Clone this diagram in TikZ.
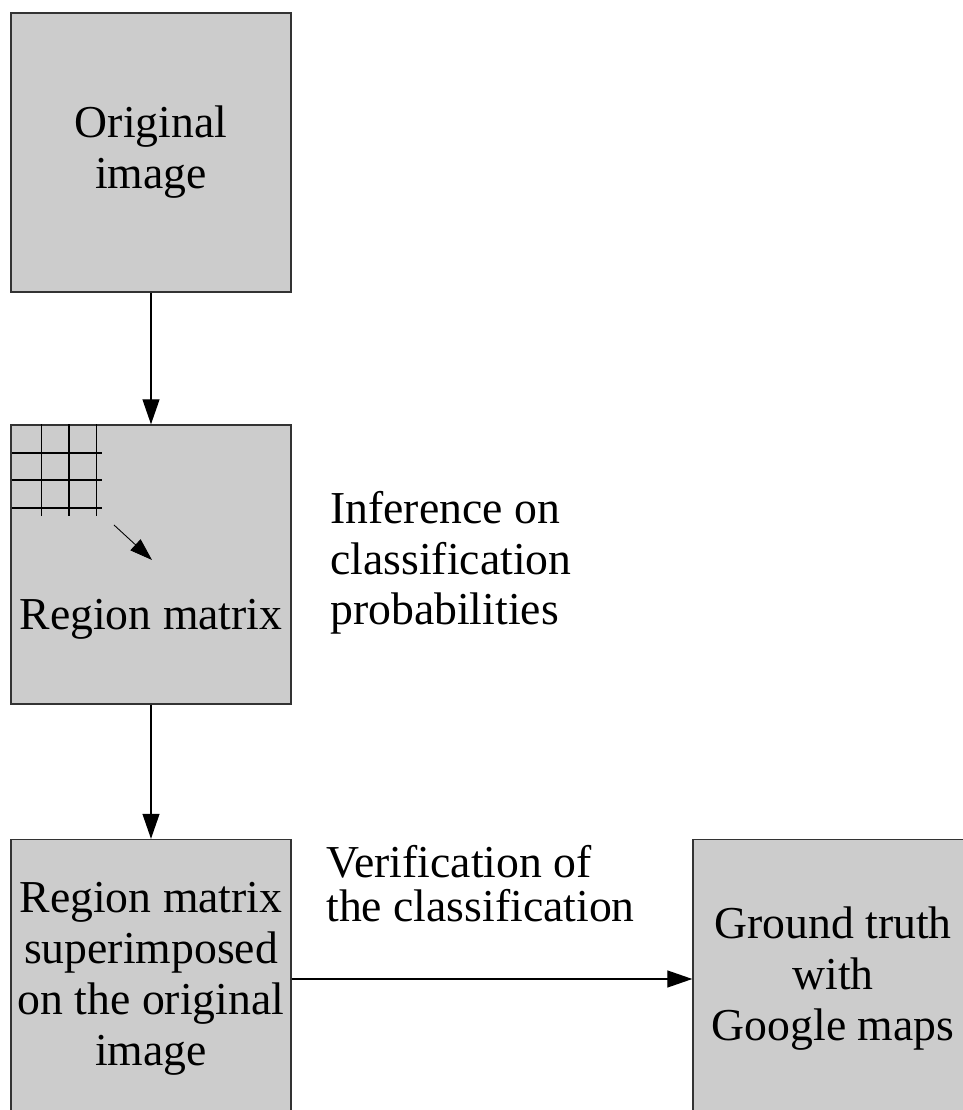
\documentclass[tikz,border=0pt]{standalone}
\usepackage{fontspec}
\setmainfont{Liberation Serif}
\usetikzlibrary{calc,arrows.meta,positioning}
\definecolor{boxgray}{HTML}{CCCCCC}
\definecolor{boxedge}{HTML}{333333}

\begin{document}
\begin{tikzpicture}[x=1cm,y=1cm, every node/.style={font=\fontsize{26}{29}\selectfont},
    stage/.style={draw=boxedge, fill=boxgray, line width=0.8pt, minimum width=5.6cm, minimum height=5.58cm, inner sep=0pt, align=center},
    flow/.style={line width=0.7pt, -{Triangle[length=5mm,width=3.4mm]}},
    note/.style={align=left, anchor=base west, inner sep=0pt}]
    \useasboundingbox (0,0) rectangle (19.24,22.2);
    \node[stage] (orig) at (3.02,19.15) {Original\\image};
    \node[stage] (region) at (3.02,10.91) {};
    \node[anchor=base, inner sep=0pt] (regionlbl) at (3.02,9.6) {Region matrix};
    \node[stage] (super) at (3.02,2.62) {Region matrix\\superimposed\\on the original\\image};
    \node[stage] (truth) at (16.66,2.62) {Ground truth\\with\\Google maps};
    \foreach \x in {0.62,1.17,1.72}{
        \draw[line width=0.9pt] ($(region.north west)+(\x,0)$) -- ++(0,-1.84);
    }
    \foreach \y in {0.57,1.12,1.67}{
        \draw[line width=0.9pt] ($(region.north west)+(0.04,-\y)$) -- ++(1.8,0);
    }
    \coordinate (scanfrom) at (2.28,11.7);
    \coordinate (scanto) at (3.04,11.0);
    \draw[line width=0.5pt, -{Triangle[length=4.5mm,width=3mm]}] (scanfrom) -- (scanto);
    \draw[flow] (orig) -- (region);
    \draw[flow] (region) -- (super);
    \draw[flow] (super) -- (truth);
    \node[note] (infer) at (6.6,9.7) {Inference on\\classification\\probabilities};
    \node[note, font=\fontsize{26}{25.5}\selectfont] (verify) at (6.52,3.76) {Verification of\\the classification};
\end{tikzpicture}
\end{document}
